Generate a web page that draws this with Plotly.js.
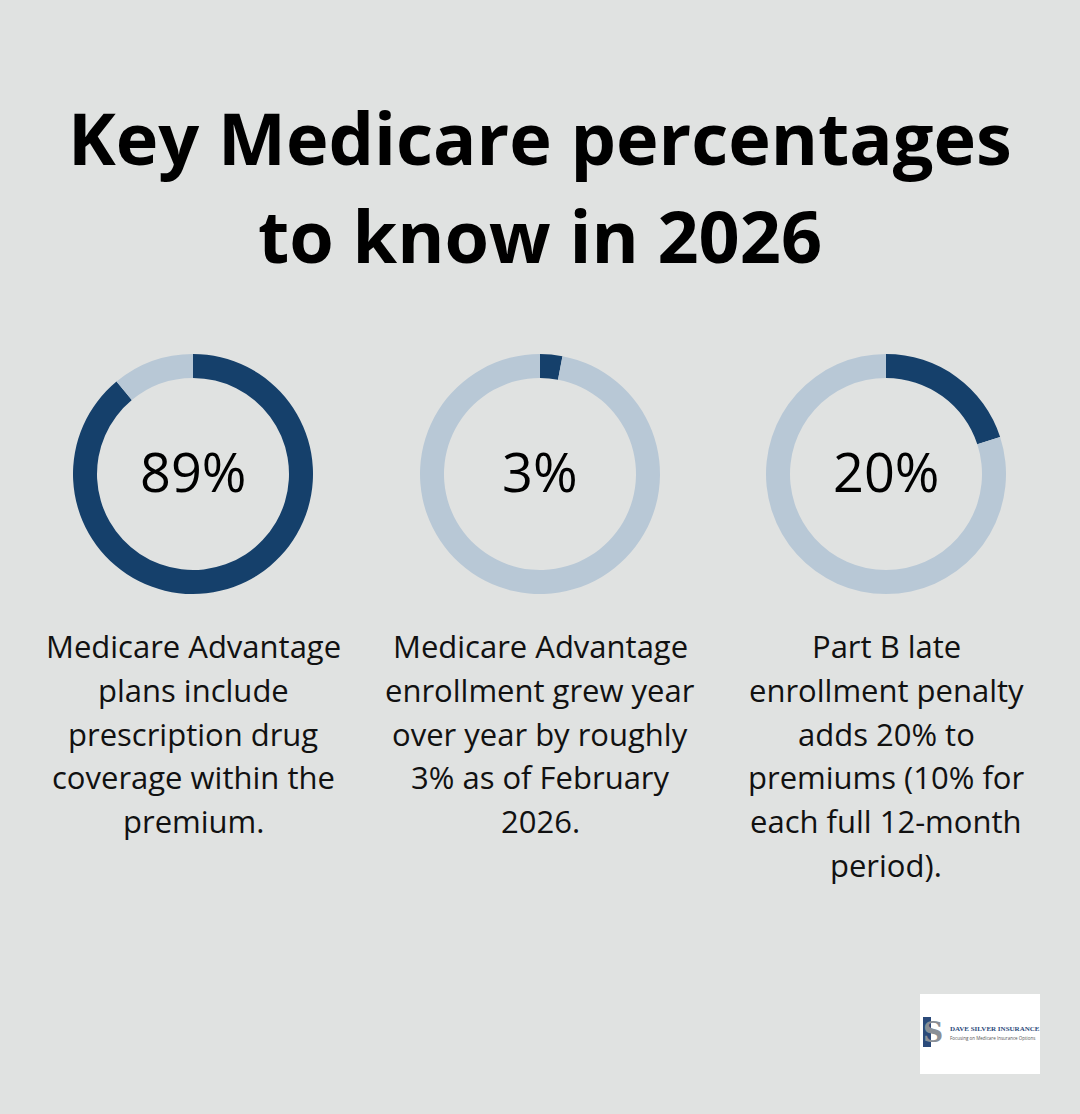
<!DOCTYPE html>
<html>
<head>
<meta charset="utf-8">
<script src="https://cdn.plot.ly/plotly-3.0.1.min.js"></script>
<style>
  html, body { margin: 0; padding: 0; background: #e0e2e1; }
  #chart { width: 1080px; height: 1114px; }
</style>
</head>
<body>
<div id="chart"></div>
<script>
// ---- data ----
const titleLines = ["Key Medicare percentages", "to know in 2026"];
const percentages = [89, 3, 20];
const centerLabels = ["89%", "3%", "20%"];
const descriptions = [
  ["Medicare Advantage", "plans include", "prescription drug", "coverage within the", "premium."],
  ["Medicare Advantage", "enrollment grew year", "over year by roughly", "3% as of February", "2026."],
  ["Part B late", "enrollment penalty", "adds 20% to", "premiums (10% for", "each full 12-month", "period)."]
];
const logoName = "DAVE SILVER INSURANCE";
const logoTagline = "Focusing on Medicare Insurance Options";

// ---- layout helpers ----
const W = 1080, H = 1114;
const px = x => x / W;
const py = y => 1 - y / H;
const centersX = [193, 540, 886];
const centerY = 474;
const R = 120;
const DARK = "#15406b";
const LIGHT = "#b8c8d6";
const FONT = "Open Sans, sans-serif";

const data = percentages.map((p, i) => ({
  type: "pie",
  values: [p, 100 - p],
  labels: ["share", "rest"],
  marker: { colors: [DARK, LIGHT], line: { width: 0 } },
  hole: 0.8,
  sort: false,
  direction: "clockwise",
  rotation: 0,
  textinfo: "none",
  hoverinfo: "skip",
  showlegend: false,
  domain: {
    x: [px(centersX[i] - R), px(centersX[i] + R)],
    y: [py(centerY + R), py(centerY - R)]
  }
}));

const annotations = [];
titleLines.forEach((t, i) => {
  annotations.push({
    text: t, x: 0.5, y: py(137 + i * 98), xref: "paper", yref: "paper",
    xanchor: "center", yanchor: "middle", showarrow: false,
    font: { family: FONT, size: 72, color: "#000000", weight: 700 }
  });
});
centerLabels.forEach((t, i) => {
  annotations.push({
    text: t, x: px(centersX[i]), y: py(centerY - 3), xref: "paper", yref: "paper",
    xanchor: "center", yanchor: "middle", showarrow: false,
    font: { family: FONT, size: 54, color: "#000000", weight: 500 }
  });
});
descriptions.forEach((lines, i) => {
  lines.forEach((t, j) => {
    annotations.push({
      text: t, x: px(centersX[i]), y: py(646 + j * 43.8), xref: "paper", yref: "paper",
      xanchor: "center", yanchor: "middle", showarrow: false,
      font: { family: FONT, size: 31, color: "#111111" }
    });
  });
});
// logo text
annotations.push({
  text: "<b>" + logoName + "</b>", x: px(948), y: py(1029), xref: "paper", yref: "paper",
  xanchor: "left", yanchor: "middle", showarrow: false,
  font: { family: "Liberation Serif, serif", size: 7, color: "#2b4a7a" }
});
annotations.push({
  text: logoTagline, x: px(948), y: py(1038), xref: "paper", yref: "paper",
  xanchor: "left", yanchor: "middle", showarrow: false,
  font: { family: FONT, size: 4.5, color: "#555555" }
});
annotations.push({
  text: "<b>S</b>", x: px(933), y: py(1032), xref: "paper", yref: "paper",
  xanchor: "center", yanchor: "middle", showarrow: false,
  font: { family: "DejaVu Serif, serif", size: 28, color: "#8a8f96" }
});

const shapes = [
  { type: "rect", xref: "paper", yref: "paper", x0: px(920), x1: px(1040), y0: py(1074), y1: py(994),
    fillcolor: "#ffffff", line: { width: 0 }, layer: "below" },
  { type: "rect", xref: "paper", yref: "paper", x0: px(923), x1: px(931), y0: py(1047), y1: py(1017),
    fillcolor: "#2b4a7a", line: { width: 0 }, layer: "below" }
];

const layout = {
  width: W, height: H,
  margin: { l: 0, r: 0, t: 0, b: 0 },
  paper_bgcolor: "#e0e2e1",
  plot_bgcolor: "#e0e2e1",
  annotations, shapes,
  showlegend: false
};

Plotly.newPlot("chart", data, layout, { displayModeBar: false, staticPlot: true });
</script>
</body>
</html>
